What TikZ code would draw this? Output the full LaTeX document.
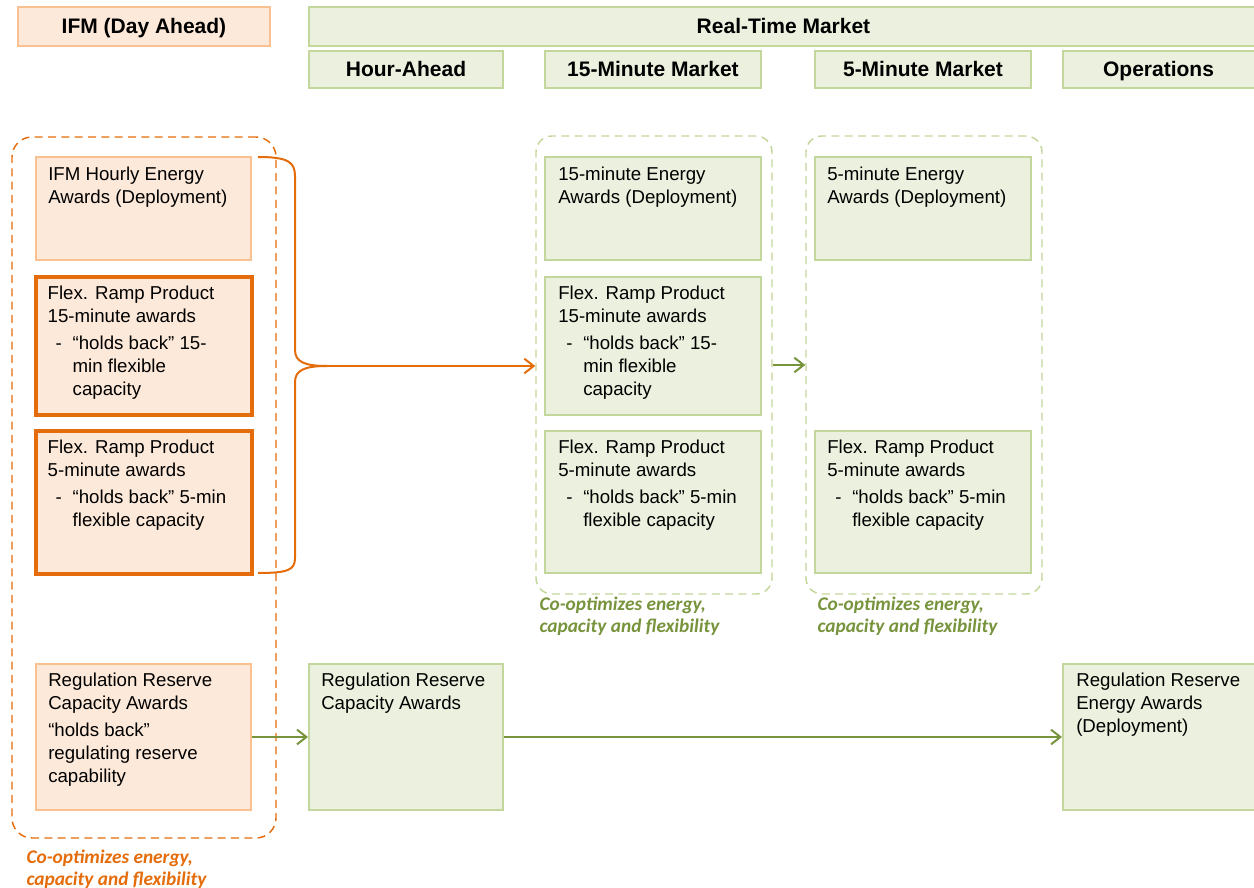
\documentclass[tikz,border=0pt]{standalone}
\usepackage{fontspec}
\setmainfont{Liberation Sans}
\newfontfamily\calibri{Carlito}
\usetikzlibrary{fit,positioning,arrows.meta}

\definecolor{ifmfill}{RGB}{253,233,217}
\definecolor{ifmline}{RGB}{250,192,144}
\definecolor{ifmdark}{RGB}{228,108,10}
\definecolor{rtfill}{RGB}{235,241,222}
\definecolor{rtline}{RGB}{195,214,155}
\definecolor{rtdark}{RGB}{119,147,60}

\newcommand{\dashitem}{\makebox[18.75pt][l]{\hspace{6pt}-}}
\newcommand{\hangitem}{\hspace*{18.75pt}}

\tikzset{
  hdr/.style={inner sep=0pt, line width=1.5pt},
  ifmhdr/.style={hdr, draw=ifmline, fill=ifmfill},
  rthdr/.style={hdr, draw=rtline, fill=rtfill},
  hdrtxt/.style={inner sep=0pt, anchor=base, yshift=-5.6pt, font=\fontsize{15.75}{18}\selectfont\bfseries},
  ifmbox/.style={inner sep=0pt, draw=ifmline, fill=ifmfill, line width=1.5pt},
  ifmflex/.style={inner sep=0pt, draw=ifmdark, fill=ifmfill, line width=2.4pt},
  rtbox/.style={inner sep=0pt, draw=rtline, fill=rtfill, line width=1.5pt},
  txt/.style={inner sep=0pt, align=left, font=\fontsize{14}{17.25}\selectfont},
  ifmgroup/.style={inner sep=0pt, draw=ifmdark, line width=1.1pt, rounded corners=15pt, dash pattern=on 6pt off 4pt},
  rtgroup/.style={inner sep=0pt, draw=rtline, line width=1.1pt, rounded corners=12pt, dash pattern=on 6pt off 4pt},
  note/.style={inner sep=0pt, align=left, font=\calibri\fontsize{14.5}{16.5}\selectfont\bfseries\itshape},
  ifmarrow/.style={draw=ifmdark, line width=1.5pt, -{Straight Barb[length=7pt,width=11pt]}},
  rtarrow/.style={draw=rtdark, line width=1.5pt, -{Straight Barb[length=7pt,width=11pt]}}
}

\begin{document}
\begin{tikzpicture}[x=0.75pt, y=-0.75pt]
  \useasboundingbox (0,0) rectangle (1254,888);

  % headers
  \node[ifmhdr, fit={(18,7) (270,46)}] (ifmhead) {};
  \node[rthdr, fit={(309,7) (1258,46)}] (rthead) {};
  \node[rthdr, fit={(309,51) (503,88)}] (hahead) {};
  \node[rthdr, fit={(545,51) (761,88)}] (m15head) {};
  \node[rthdr, fit={(815,51) (1031,88)}] (m5head) {};
  \node[rthdr, fit={(1063,51) (1258,88)}] (ophead) {};
  \node[hdrtxt] (ifmhead-t) at (ifmhead) {IFM (Day Ahead)};
  \node[hdrtxt] (rthead-t) at (rthead) {Real-Time Market};
  \node[hdrtxt] (hahead-t) at (hahead) {Hour-Ahead};
  \node[hdrtxt] (m15head-t) at (m15head) {15-Minute Market};
  \node[hdrtxt] (m5head-t) at (m5head) {5-Minute Market};
  \node[hdrtxt] (ophead-t) at ([xshift=-1.5pt]ophead) {Operations};

  % dashed groups
  \node[ifmgroup, fit={(12,137) (276,838)}] (ifmgrp) {};
  \node[rtgroup, fit={(536,136) (772,594)}] (grp15) {};
  \node[rtgroup, fit={(806,136) (1042,594)}] (grp5) {};

  % IFM column
  \node[ifmbox, fit={(36,157) (251,260)}] (ifmen) {};
  \node[ifmflex, fit={(36,277) (252,415)}] (ifmfr15) {};
  \node[ifmflex, fit={(36,431) (252,574)}] (ifmfr5) {};
  \node[ifmbox, fit={(36,664) (251,810)}] (ifmreg) {};

  % real-time columns
  \node[rtbox, fit={(545,157) (761,260)}] (en15) {};
  \node[rtbox, fit={(545,277) (761,415)}] (fr15) {};
  \node[rtbox, fit={(545,431) (761,573)}] (fr5a) {};
  \node[rtbox, fit={(815,157) (1031,260)}] (en5) {};
  \node[rtbox, fit={(815,431) (1031,573)}] (fr5b) {};
  \node[rtbox, fit={(309,664) (503,810)}] (regha) {};
  \node[rtbox, fit={(1063,664) (1258,810)}] (regop) {};

  % box texts
  \node[txt, below right=8.25pt and 9.75pt of ifmen.north west] (ifmen-t)
    {IFM Hourly Energy\\Awards (Deployment)};
  \node[txt, below right=7.5pt and 9.75pt of ifmfr15.north west] (ifmfr15-t)
    {Flex. Ramp Product\\15-minute awards\\[3pt]\dashitem“holds back” 15-\\\hangitem min flexible\\\hangitem capacity};
  \node[txt, below right=7.5pt and 9.75pt of ifmfr5.north west] (ifmfr5-t)
    {Flex. Ramp Product\\5-minute awards\\[3pt]\dashitem“holds back” 5-min\\\hangitem flexible capacity};
  \node[txt, below right=7.5pt and 9.75pt of ifmreg.north west] (ifmreg-t)
    {Regulation Reserve\\Capacity Awards\\[3pt]“holds back”\\regulating reserve\\capability};
  \node[txt, below right=8.25pt and 10.5pt of en15.north west] (en15-t)
    {15-minute Energy\\Awards (Deployment)};
  \node[txt, below right=7.5pt and 10.5pt of fr15.north west] (fr15-t)
    {Flex. Ramp Product\\15-minute awards\\[3pt]\dashitem“holds back” 15-\\\hangitem min flexible\\\hangitem capacity};
  \node[txt, below right=7.5pt and 10.5pt of fr5a.north west] (fr5a-t)
    {Flex. Ramp Product\\5-minute awards\\[3pt]\dashitem“holds back” 5-min\\\hangitem flexible capacity};
  \node[txt, below right=8.25pt and 9.75pt of en5.north west] (en5-t)
    {5-minute Energy\\Awards (Deployment)};
  \node[txt, below right=7.5pt and 9.75pt of fr5b.north west] (fr5b-t)
    {Flex. Ramp Product\\5-minute awards\\[3pt]\dashitem“holds back” 5-min\\\hangitem flexible capacity};
  \node[txt, below right=7.5pt and 9.75pt of regha.north west] (regha-t)
    {Regulation Reserve\\Capacity Awards};
  \node[txt, below right=7.5pt and 10.5pt of regop.north west] (regop-t)
    {Regulation Reserve\\Energy Awards\\(Deployment)};

  % group notes
  \node[note, text=ifmdark, below right=8.25pt and 11.25pt of ifmgrp.south west] (ifmnote)
    {Co-optimizes energy,\\capacity and flexibility};
  \node[note, text=rtdark, below right=1.5pt and 3pt of grp15.south west] (note15)
    {Co-optimizes energy,\\capacity and flexibility};
  \node[note, text=rtdark, below right=1.5pt and 9pt of grp5.south west] (note5)
    {Co-optimizes energy,\\capacity and flexibility};

  % brace over the IFM awards
  \coordinate (bracetip) at (327,366);
  \draw[ifmdark, line width=1.5pt] (258,157) .. controls (288,157) and (295,162) .. (295,176)
    -- (295,350) .. controls (295,362) and (305,366) .. (bracetip)
    .. controls (305,366) and (295,370) .. (295,382)
    -- (295,558) .. controls (295,570) and (288,573) .. (258,573);

  % connectors
  \draw[ifmarrow] (bracetip) -- (bracetip -| grp15.west);
  \draw[rtarrow] (grp15.east) -- (grp5.west);
  \draw[rtarrow] (ifmreg.east) -- (regha.west);
  \draw[rtarrow] (regha.east) -- (regop.west);
\end{tikzpicture}
\end{document}
